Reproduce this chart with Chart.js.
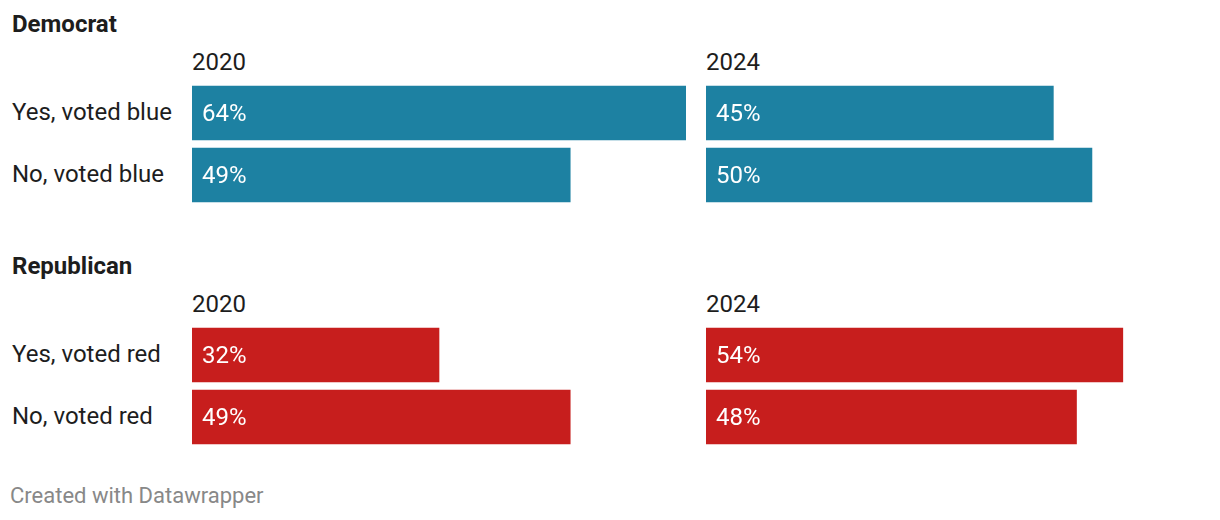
<!DOCTYPE html>
<html>
<head>
<meta charset="utf-8">
<script src="https://cdn.jsdelivr.net/npm/chart.js@4/dist/chart.umd.min.js"></script>
<style>
  html, body { margin: 0; padding: 0; background: #fff; }
  body { width: 1220px; height: 520px; position: relative; overflow: hidden; font-family: Roboto, "Noto Sans", sans-serif; color: #1d1d1d; }
  .t { position: absolute; white-space: nowrap; line-height: 1; font-size: 24px; }
  .group { font-weight: bold; }
  .foot { color: #888; font-size: 22px; }
  .panel { position: absolute; width: 494px; height: 124px; }
</style>
</head>
<body>
<div id="root"></div>
<script>
// data
const groups = ['Democrat', 'Republican'];
const years = ['2020', '2024'];
const rowsDem = ['Yes, voted blue', 'No, voted blue'];
const rowsRep = ['Yes, voted red', 'No, voted red'];
const dem2020 = [64, 49];
const dem2024 = [45, 50];
const rep2020 = [32, 49];
const rep2024 = [54, 48];
const xMax = 64;

const colors = { Democrat: '#1d81a2', Republican: '#c71e1d' };

const root = document.getElementById('root');

function addText(txt, left, top, cls) {
    const d = document.createElement('div');
    d.className = 't ' + (cls || '');
    d.textContent = txt;
    d.style.left = left + 'px';
    d.style.top = top + 'px';
    root.appendChild(d);
    return d;
}

// value labels inside the bars
const valueLabels = {
    id: 'valueLabels',
    afterDatasetsDraw(chart) {
        const ctx = chart.ctx;
        const meta = chart.getDatasetMeta(0);
        const values = chart.data.datasets[0].data;
        ctx.save();
        ctx.fillStyle = '#ffffff';
        ctx.font = '24px Roboto';
        ctx.textBaseline = 'alphabetic';
        ctx.textAlign = 'left';
        meta.data.forEach((bar, i) => {
            ctx.fillText(values[i] + '%', bar.base + 10, bar.y + 8);
        });
        ctx.restore();
    }
};

function makePanel(left, top, labels, values, color) {
    const wrap = document.createElement('div');
    wrap.className = 'panel';
    wrap.style.left = left + 'px';
    wrap.style.top = top + 'px';
    const canvas = document.createElement('canvas');
    wrap.appendChild(canvas);
    root.appendChild(wrap);

    new Chart(canvas.getContext('2d'), {
        type: 'bar',
        data: {
            labels: labels,
            datasets: [{
                data: values,
                backgroundColor: color,
                barThickness: 54,
                borderWidth: 0
            }]
        },
        options: {
            indexAxis: 'y',
            responsive: true,
            maintainAspectRatio: false,
            animation: false,
            layout: { padding: 0 },
            plugins: { legend: { display: false }, tooltip: { enabled: false } },
            scales: {
                x: { display: false, min: 0, max: xMax },
                y: { display: false }
            }
        },
        plugins: [valueLabels]
    });
}

const groupData = [
    { name: groups[0], rows: rowsDem, series: [dem2020, dem2024] },
    { name: groups[1], rows: rowsRep, series: [rep2020, rep2024] }
];
const panelLeft = [192, 706];

groupData.forEach((g, gi) => {
    const off = gi * 242;
    addText(g.name, 12, 12 + off, 'group');
    g.rows.forEach((r, ri) => addText(r, 12, 100 + ri * 62 + off));
    years.forEach((y, yi) => {
        addText(y, panelLeft[yi], 50 + off);
        makePanel(panelLeft[yi], 82 + off, g.rows, g.series[yi], colors[g.name]);
    });
});

addText('Created with Datawrapper', 10, 485, 'foot');
</script>
</body>
</html>
